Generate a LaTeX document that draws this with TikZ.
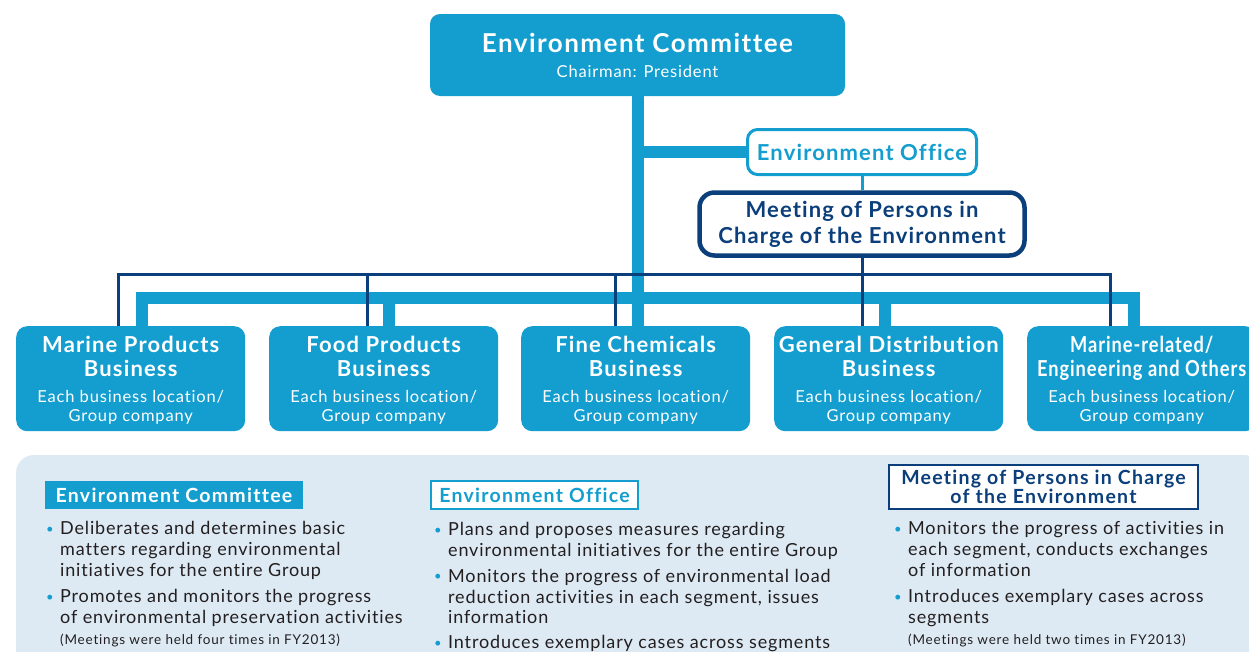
\documentclass[tikz,border=0pt]{standalone}
\usepackage{fontspec}
\setmainfont{Lato}[Ligatures={NoCommon,NoContextual}]
\definecolor{lb}{HTML}{139ECF}
\definecolor{db}{HTML}{0B3F7B}
\definecolor{panel}{HTML}{DDEAF4}
\definecolor{txt}{HTML}{231F20}
\newcommand\ttlfont{\bfseries\fontsize{22}{26}\selectfont\addfontfeature{LetterSpace=5.2}}
\newcommand\bigttlfont{\bfseries\fontsize{26}{19}\selectfont\addfontfeature{LetterSpace=5.6}}
\newcommand\subfont{\fontsize{16.5}{19}\selectfont\addfontfeature{LetterSpace=5}}
\newcommand\bodyfont{\fontsize{18}{20.7}\selectfont\addfontfeature{LetterSpace=4.7}}
\newcommand\notefont{\fontsize{13.5}{15}\selectfont\addfontfeature{LetterSpace=5.9}}
\newcommand\hdfont{\bfseries\fontsize{19.5}{19}\selectfont\addfontfeature{LetterSpace=6.5}}
\newcommand\mybul{\makebox[14pt][l]{\textcolor{lb}{\raisebox{1.5pt}{\fontsize{13}{13}\selectfont •}}}}
\newcommand\myind{\hspace*{14pt}}
\newcommand\uprule{\rule{0pt}{20pt}}
\begin{document}
\begin{tikzpicture}[x=1pt,y=-1pt,
  bizbox/.style={fill=lb, rounded corners=11pt, minimum width=229pt, minimum height=105pt,
    inner sep=0pt, text=white, align=center, anchor=north west, font=\subfont},
  lbline/.style={draw=lb, line width=12pt, line join=miter, line cap=butt},
  dbline/.style={draw=db, line width=3pt, line join=miter, line cap=butt},
  bodytext/.style={anchor=north west, align=left, inner sep=0pt, text=txt, font=\bodyfont}]
\clip (0,0) rectangle (1249,651);
\fill[white] (0,0) rectangle (1249,651);
% bottom panel
\fill[panel, rounded corners=18pt] (16,455) rectangle (1262,690);

% top box
\node[fill=lb, rounded corners=10pt, minimum width=415pt, minimum height=82pt, inner sep=0pt,
  text=white, align=center, font=\subfont] (top) at (637.5,55)
  {{\bigttlfont Environment Committee}\rule{0pt}{21pt}\\[6pt]Chairman: President};
% environment office
\node[fill=white, draw=lb, line width=3pt, rounded corners=10pt, minimum width=229pt, minimum height=45pt,
  inner sep=0pt, text=lb, font=\ttlfont] (office) at (862,152) {Environment Office};
% meeting
\node[fill=white, draw=db, line width=4.5pt, rounded corners=15pt, minimum width=325pt, minimum height=63pt,
  inner sep=0pt, text=db, font=\ttlfont, align=center] (meeting) at (862,224)
  {Meeting of Persons in\\Charge of the Environment};

% business boxes
\node[bizbox] (marine) at (16,326) {{\ttlfont Marine Products}\uprule\\[5pt]{\ttlfont Business}\\[7pt]Each business location/\\Group company};
\node[bizbox] (food) at (269,326) {{\ttlfont Food Products}\uprule\\[5pt]{\ttlfont Business}\\[7pt]Each business location/\\Group company};
\node[bizbox] (fine) at (521,326) {{\ttlfont Fine Chemicals}\uprule\\[5pt]{\ttlfont Business}\\[7pt]Each business location/\\Group company};
\node[bizbox] (gen) at (774,326) {{\ttlfont General Distribution}\uprule\\[5pt]{\ttlfont Business}\\[7pt]Each business location/\\Group company};
\node[bizbox] (mr) at (1027,326) {{\ttlfont\scalebox{0.83}[1]{Marine-related/}}\uprule\\[5pt]{\ttlfont\scalebox{0.83}[1]{Engineering and Others}}\\[7pt]Each business location/\\Group company};

% light-blue network
\coordinate (l1) at (142,297.5);
\coordinate (l2) at (389,297.5);
\coordinate (l4) at (885,297.5);
\coordinate (l5) at (1134,297.5);
\draw[lbline] (top.south) -- (top.south |- fine.north);
\draw[lbline] (top.south |- office.west) -- (office.west);
\draw[lbline] (l1 |- marine.north) -- (l1) -- (l5) -- (l5 |- mr.north);
\draw[lbline] (l2) -- (l2 |- food.north);
\draw[lbline] (l4) -- (l4 |- gen.north);
\draw[draw=lb, line width=3pt] (office.south) -- (meeting.north);

% dark-blue network
\coordinate (d1) at (118,274);
\coordinate (d2) at (367,274);
\coordinate (d3) at (615,274);
\coordinate (d4) at (862,274);
\coordinate (d5) at (1110,274);
\draw[dbline] (meeting.south) -- (d4);
\draw[dbline] (d1 |- marine.north) -- (d1) -- (d5) -- (d5 |- mr.north);
\draw[dbline] (d2) -- (d2 |- food.north);
\draw[dbline] (d3) -- (d3 |- fine.north);
\draw[dbline] (d4) -- (d4 |- gen.north);

% panel headings
\node[fill=lb, text=white, minimum width=258pt, minimum height=28pt, inner sep=0pt, font=\hdfont] (h1) at (174,495) {Environment Committee};
\node[fill=white, draw=lb, line width=2pt, text=lb, minimum width=207pt, minimum height=28pt, inner sep=0pt, font=\hdfont] (h2) at (534.5,495) {Environment Office};
\node[fill=white, draw=db, line width=2pt, text=db, minimum width=309pt, minimum height=44pt, inner sep=0pt, font=\hdfont, align=center] (h3) at (1043.5,487) {Meeting of Persons in Charge\\of the Environment};

% bullet texts
\node[bodytext] (t1) at (46,521.5) {\mybul Deliberates and determines basic\\
\myind matters regarding environmental\\
\myind initiatives for the entire Group\\[5.5pt]
\mybul Promotes and monitors the progress\\
\myind of environmental preservation activities\\[0.5pt]
\myind{\notefont (Meetings were held four times in FY2013)}};
\node[bodytext] (t2) at (434,522.5) {\mybul Plans and proposes measures regarding\\
\myind environmental initiatives for the entire Group\\[5pt]
\mybul Monitors the progress of environmental load\\
\myind reduction activities in each segment, issues\\
\myind information\\[4.5pt]
\mybul Introduces exemplary cases across segments};
\node[bodytext] (t3) at (894,521.5) {\mybul Monitors the progress of activities in\\
\myind each segment, conducts exchanges\\
\myind of information\\[5.5pt]
\mybul Introduces exemplary cases across\\
\myind segments\\[0.5pt]
\myind{\notefont (Meetings were held two times in FY2013)}};
\end{tikzpicture}
\end{document}
